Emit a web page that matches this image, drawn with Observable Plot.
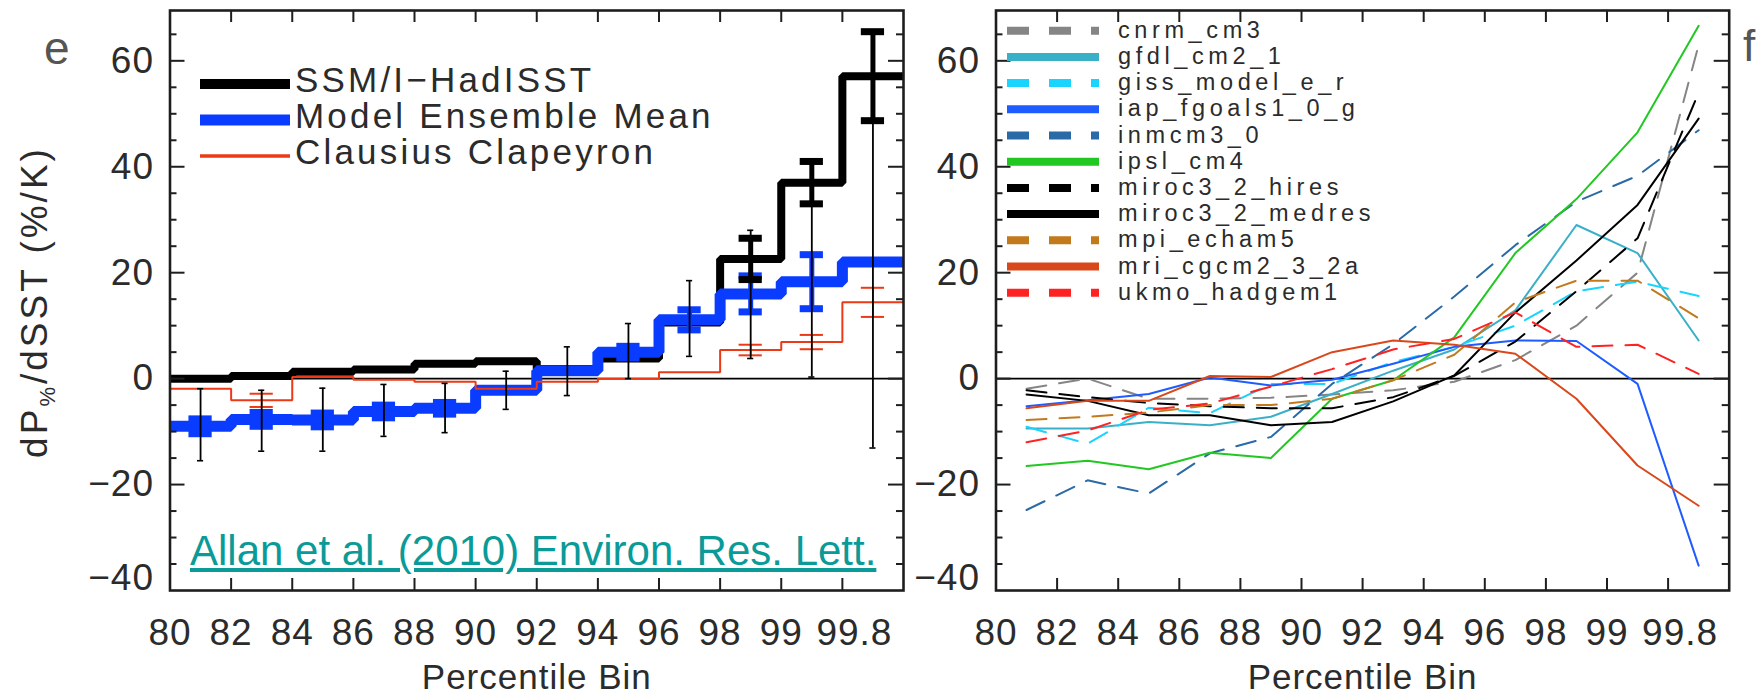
<!DOCTYPE html>
<html><head><meta charset="utf-8">
<script src="https://cdn.jsdelivr.net/npm/d3@7"></script>
<script src="https://cdn.jsdelivr.net/npm/@observablehq/plot@0.6"></script>
<style>
body{margin:0;background:#fff;}
#wrap{position:relative;width:1763px;height:696px;overflow:hidden;font-family:"Liberation Sans",Arial,sans-serif;}
.panel{position:absolute;top:0;}
#overlay{position:absolute;left:0;top:0;pointer-events:none;}
#cap{position:absolute;left:190px;top:530px;font-size:42px;line-height:42px;color:#0a9a98;text-decoration:underline;white-space:nowrap;}
</style></head>
<body><div id="wrap">
<div id="left" class="panel" style="left:0"></div>
<div id="right" class="panel" style="left:930px"></div>
<svg id="overlay" width="1763" height="696"></svg>
<a id="cap">Allan et al. (2010) Environ. Res. Lett.</a>
</div>
<script>
// ---------- data ----------
const binLabels = ["80","82","84","86","88","90","92","94","96","98","99","99.8"];

// panel e
const obsSSMI = [0.0, 0.5, 1.3, 1.7, 2.8, 3.3, 1.8, 3.8, 10.6, 22.6, 37.0, 57.1];
const obsErr  = [0, 0, 0, 0, 0, 0, 0, 0, 0, 3.9, 4.0, 8.4];
const ensMean = [-9.0, -7.7, -7.8, -6.2, -5.6, -2.2, 1.5, 5.0, 11.1, 16.0, 18.3, 22.0];
const ensErr  = [1.4, 1.3, 1.3, 1.2, 1.1, 0, 0, 1.1, 1.9, 3.4, 5.1, 0];
const ensMin  = [-15.5, -13.7, -13.7, -10.9, -10.2, -5.8, -3.2, 0.0, 4.2, 3.8, 0.3, -13.1];
const ensMax  = [-1.9, -2.2, -1.8, -1.1, -0.9, 1.4, 6.0, 10.4, 18.5, 28.0, 40.9, 65.3];
const ccRate  = [-1.9, -4.1, 0.3, -0.2, -0.6, -1.9, -0.6, 0.0, 1.2, 5.4, 6.9, 14.4];
const ccErr   = [0, 1.25, 0, 0, 0, 0, 0, 0, 0, 1.0, 1.35, 2.75];
const legendE = ["SSM/I\u2212HadISST", "Model Ensemble Mean", "Clausius Clapeyron"];

// panel f
const models = ["cnrm_cm3","gfdl_cm2_1","giss_model_e_r","iap_fgoals1_0_g","inmcm3_0","ipsl_cm4",
                "miroc3_2_hires","miroc3_2_medres","mpi_echam5","mri_cgcm2_3_2a","ukmo_hadgem1"];
const cnrm_cm3        = [-1.9, 0.0, -3.8, -3.8, -3.6, -3.0, -2.2, -0.6, 3.5, 10.0, 20.0, 63.0];
const gfdl_cm2_1      = [-9.4, -9.4, -8.2, -8.8, -7.2, -2.9, 1.5, 5.5, 12.9, 29.0, 23.7, 7.2];
const giss_model_e_r  = [-9.1, -12.3, -5.5, -6.5, -1.0, -1.0, 3.1, 6.0, 10.0, 16.5, 18.3, 15.6];
const iap_fgoals1_0_g = [-5.2, -4.1, -2.9, 0.2, -1.3, -0.2, 2.8, 6.0, 7.2, 7.1, -1.0, -35.3];
const inmcm3_0        = [-24.8, -19.2, -21.7, -14.1, -11.0, -1.0, 6.5, 15.5, 25.2, 33.4, 38.3, 46.9];
const ipsl_cm4        = [-16.5, -15.5, -17.1, -14.0, -15.0, -3.8, -0.3, 7.8, 23.7, 33.9, 46.5, 66.6];
const miroc3_2_hires  = [-2.2, -3.5, -4.6, -5.2, -5.6, -5.6, -3.5, 0.5, 7.0, 16.5, 26.5, 54.0];
const miroc3_2_medres = [-3.0, -4.2, -6.9, -6.9, -8.8, -8.2, -4.3, 0.6, 12.5, 22.3, 32.8, 49.1];
const mpi_echam5      = [-7.8, -7.2, -6.4, -5.0, -5.0, -3.8, -0.3, 4.5, 14.4, 18.5, 18.5, 11.4];
const mri_cgcm2_3_2a  = [-5.6, -4.2, -4.2, 0.5, 0.3, 5.0, 7.2, 6.4, 4.7, -3.8, -16.4, -24.0];
const ukmo_hadgem1    = [-12.0, -9.8, -5.9, -4.7, -1.5, 1.8, 5.5, 7.5, 12.5, 6.0, 6.4, 0.9];
const series = [cnrm_cm3, gfdl_cm2_1, giss_model_e_r, iap_fgoals1_0_g, inmcm3_0, ipsl_cm4,
                miroc3_2_hires, miroc3_2_medres, mpi_echam5, mri_cgcm2_3_2a, ukmo_hadgem1];

// ---------- styles ----------
const BLUE = "#0a3cff", RED = "#ec3a17", INK = "#1e1e1e", TXT = "#2b2b2b";
const modelColors = ["#858585","#3ab0c8","#18d4ff","#1f5cff","#2a6aa6","#22c822",
                     "#000000","#000000","#c27a1c","#d9481a","#ff2222"];
const modelDashed = [true,false,true,false,true,false,true,false,true,false,true];

const H = 696, MT = 10, MB = 106;
const yDomain = [-40, 69.5];
const fmt = d => d < 0 ? "\u2212" + (-d) : String(d);

function axisMarks(W, Hf) {
  const majors = [-20, 0, 20, 40, 60];
  const minors = d3.range(-35, 70, 5).filter(v => v % 20 !== 0);
  const xt = d3.range(1, 12);
  const st = {stroke: INK, strokeWidth: 2};
  const xl = {tickSize: 0, tickPadding: 28, tickFormat: i => binLabels[i], fontSize: 37, label: null, fill: TXT};
  const yl = {tickSize: 0, tickPadding: 16, tickFormat: fmt, fontSize: 37, label: null, fill: TXT};
  return [
    Plot.ruleX(xt, {x: d => d, insetTop: Hf - 12, ...st}),
    Plot.ruleX(xt, {x: d => d, insetBottom: Hf - 12, ...st}),
    Plot.ruleY(majors, {y: d => d, insetRight: W - 15, ...st}),
    Plot.ruleY(majors, {y: d => d, insetLeft: W - 15, ...st}),
    Plot.ruleY(minors, {y: d => d, insetRight: W - 7, ...st}),
    Plot.ruleY(minors, {y: d => d, insetLeft: W - 7, ...st}),
    Plot.frame({stroke: INK, strokeWidth: 2.6}),
    Plot.axisX(d3.range(0, 11), xl),
    Plot.axisX([11], {...xl, dx: 12}),
    Plot.axisY(majors, yl),
    Plot.axisY([-40], {...yl, dy: -12}),
    Plot.text(["Percentile Bin"], {frameAnchor: "bottom", dy: 87, fontSize: 35, lineAnchor: "middle", text: d => d, fill: TXT})
  ];
}

const stepPts = arr => [...arr.map((v, i) => ({x: i, y: v})), {x: arr.length, y: arr[arr.length - 1]}];
const bars = (mean, err) => mean.map((v, i) => ({c: i + 0.5, lo: v - err[i], hi: v + err[i]})).filter((d, i) => err[i] > 0);
const capW = 0.19;
function errMarks(data, color, vw, cw, half) {
  return [
    Plot.ruleX(data, {x: "c", y1: "lo", y2: "hi", stroke: color, strokeWidth: vw}),
    Plot.ruleY(data, {y: "lo", x1: d => d.c - half, x2: d => d.c + half, stroke: color, strokeWidth: cw}),
    Plot.ruleY(data, {y: "hi", x1: d => d.c - half, x2: d => d.c + half, stroke: color, strokeWidth: cw})
  ];
}

const baseStyle = {fontFamily: "'Liberation Sans', Arial, sans-serif", fontSize: "37px", color: INK,
                   background: "transparent", overflow: "visible", letterSpacing: "1px"};

// ---------- panel e ----------
{
  const width = 930, ml = 169.5, mr = 27;
  const W = width - ml - mr, Hf = H - MT - MB;
  const rangeBars = ensMin.map((lo, i) => ({c: i + 0.5, lo, hi: ensMax[i]}));
  const lineOpts = {x: "x", y: "y", curve: "step-after", strokeLinecap: "butt", strokeLinejoin: "miter"};
  const p = Plot.plot({
    width, height: H, marginLeft: ml, marginRight: mr, marginTop: MT, marginBottom: MB,
    style: baseStyle,
    x: {domain: [0, 12]},
    y: {domain: yDomain},
    marks: [
      Plot.ruleY([0], {stroke: "#000", strokeWidth: 1.6}),
      Plot.line(stepPts(obsSSMI), {...lineOpts, stroke: "#000", strokeWidth: 8}),
      Plot.line(stepPts(ensMean), {...lineOpts, stroke: BLUE, strokeWidth: 11}),
      ...errMarks(bars(ensMean, ensErr), BLUE, 5, 7, capW),
      Plot.line(stepPts(ccRate), {...lineOpts, stroke: RED, strokeWidth: 2}),
      ...errMarks(bars(ccRate, ccErr), RED, 1.6, 2, capW),
      ...errMarks(bars(obsSSMI, obsErr), "#000", 5, 7, capW),
      ...errMarks(rangeBars, "#000", 1.8, 1.6, 0.05),
      ...axisMarks(W, Hf)
    ]
  });
  document.getElementById("left").appendChild(p);
}

// ---------- panel f ----------
{
  const width = 833, ml = 65.5, mr = 34.3;
  const W = width - ml - mr, Hf = H - MT - MB;
  const long = models.flatMap((m, k) => series[k].map((v, i) => ({model: m, k, bin: i + 0.5, value: v})));
  const lines = models.map((m, k) => Plot.line(long.filter(d => d.k === k), {
    x: "bin", y: "value", stroke: modelColors[k], strokeWidth: 2,
    strokeDasharray: modelDashed[k] ? "20,13" : null
  }));
  const p = Plot.plot({
    width, height: H, marginLeft: ml, marginRight: mr, marginTop: MT, marginBottom: MB,
    style: baseStyle,
    x: {domain: [0, 12]},
    y: {domain: yDomain},
    marks: [
      Plot.ruleY([0], {stroke: "#000", strokeWidth: 1.6}),
      ...lines,
      ...axisMarks(W, Hf)
    ]
  });
  document.getElementById("right").appendChild(p);
}

// ---------- overlay: legends, labels ----------
{
  const svg = d3.select("#overlay");
  const ff = "'Liberation Sans', Arial, sans-serif";
  // legend e
  const eColors = ["#000", BLUE, RED], eWidths = [10, 11, 3.5], eRows = [84, 120, 156];
  legendE.forEach((t, k) => {
    svg.append("line").attr("x1", 200).attr("x2", 290).attr("y1", eRows[k]).attr("y2", eRows[k])
      .attr("stroke", eColors[k]).attr("stroke-width", eWidths[k]);
    svg.append("text").attr("x", 295).attr("y", eRows[k] + 8).text(t)
      .attr("font-family", ff).attr("font-size", 35).attr("letter-spacing", "3.2px").attr("fill", TXT);
  });
  // legend f
  models.forEach((m, k) => {
    const y = 30.7 + 26.2 * k;
    svg.append("line").attr("x1", 1007).attr("x2", 1099).attr("y1", y).attr("y2", y)
      .attr("stroke", modelColors[k]).attr("stroke-width", 8)
      .attr("stroke-dasharray", modelDashed[k] ? "22,20" : null);
    svg.append("text").attr("x", 1118).attr("y", y + 7).text(m)
      .attr("font-family", ff).attr("font-size", 23.5).attr("letter-spacing", "4.6px").attr("fill", TXT);
  });
  // panel letters
  svg.append("text").attr("x", 44).attr("y", 64).text("e").attr("font-family", ff).attr("font-size", 46).attr("fill", "#555");
  svg.append("text").attr("x", 1743).attr("y", 61).text("f").attr("font-family", ff).attr("font-size", 44).attr("fill", "#555");
  // y title with subscript
  const yt = svg.append("text").attr("transform", "translate(47,302) rotate(-90)")
    .attr("text-anchor", "middle").attr("font-family", ff).attr("font-size", 37)
    .attr("letter-spacing", "3px").attr("fill", TXT);
  yt.append("tspan").text("dP");
  yt.append("tspan").text("%").attr("font-size", 22).attr("dy", 8);
  yt.append("tspan").text("/dSST (%/K)").attr("dy", -8);
}
</script>
</body></html>
